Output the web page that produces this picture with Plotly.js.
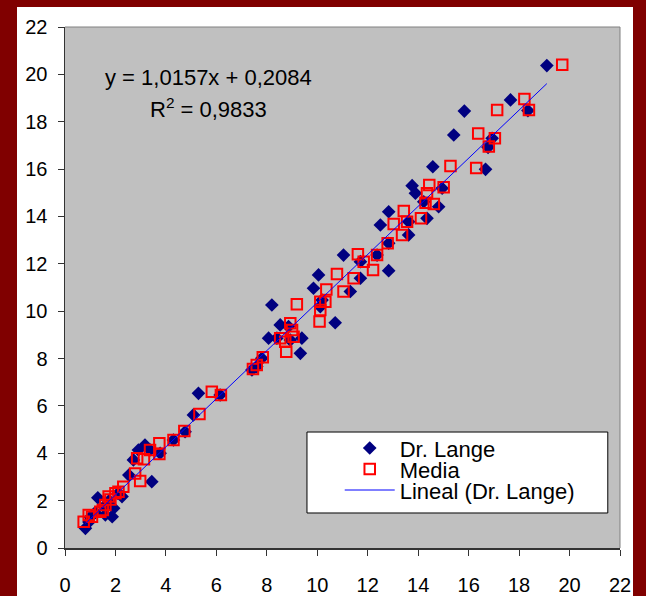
<!DOCTYPE html>
<html>
<head>
<meta charset="utf-8">
<script src="https://cdn.plot.ly/plotly-3.0.1.min.js"></script>
<style>
  html, body { margin: 0; padding: 0; width: 646px; height: 596px; overflow: hidden; background: #800000; }
  #frame { position: absolute; left: 17px; top: 7px; width: 616px; height: 589px; background: #ffffff; }
  #chart { width: 616px; height: 589px; }
</style>
</head>
<body>
<div id="frame"><div id="chart"></div></div>
<script>
// Dr. Lange readings (x = reference value, y = measured value)
const langeX = [19.1, 17.66, 15.83, 18.35, 15.41, 16.93, 16.77, 16.67, 14.58, 13.76,
                14.95, 13.89, 14.22, 14.81, 12.83, 12.5, 13.62, 14.35, 13.62, 12.83,
                11.04, 11.71, 12.37, 10.05, 11.71, 12.83, 9.85, 11.31, 10.12, 10.19,
                10.71, 8.2, 8.53, 8.07, 8.4, 9.39, 8.86, 8.93, 9.33, 7.8,
                7.6, 7.41, 5.29, 6.15, 5.09, 4.76, 4.3, 3.17, 2.91, 3.77,
                3.37, 2.71, 2.53, 3.44, 2.26, 2.1, 1.93, 1.87, 1.55, 1.3,
                1.2, 1.0, 0.81, 0.95, 1.6, 1.75];
const langeY = [20.37, 18.92, 18.45, 18.47, 17.44, 17.3, 16.92, 15.99, 16.1, 15.3,
                15.19, 14.98, 14.62, 14.41, 14.2, 13.64, 13.78, 13.92, 13.22, 12.87,
                12.37, 12.09, 12.37, 11.53, 11.39, 11.71, 10.97, 10.83, 10.19, 10.47,
                9.51, 10.26, 9.42, 8.86, 8.86, 8.86, 9.35, 8.78, 8.22, 8.01,
                7.66, 7.52, 6.53, 6.46, 5.62, 4.91, 4.56, 4.35, 4.14, 4.0,
                4.14, 3.72, 3.08, 2.8, 2.17, 2.3, 1.68, 1.32, 1.75, 2.12,
                1.5, 1.3, 0.83, 1.1, 1.4, 2.0];

// Media readings
const mediaX = [19.71, 18.21, 17.13, 18.39, 16.38, 17.04, 16.8, 15.28, 16.3, 15.01,
                14.44, 14.35, 14.29, 14.62, 13.43, 13.03, 13.56, 14.11, 13.36, 12.79,
                11.61, 12.37, 11.84, 12.21, 10.78, 11.44, 10.36, 11.04, 10.32, 10.12,
                10.12, 10.09, 9.19, 8.93, 9.0, 8.53, 9.06, 8.73, 8.77, 7.84,
                7.6, 7.45, 5.82, 6.18, 5.33, 4.73, 4.3, 3.74, 3.37, 3.74,
                3.13, 2.78, 2.98, 2.86, 2.31, 2.12, 2.0, 1.73, 1.6, 1.4,
                1.07, 0.94, 0.74, 1.8, 1.5];
const mediaY = [20.41, 18.96, 18.5, 18.5, 17.5, 17.3, 16.95, 16.13, 16.05, 15.23,
                15.33, 14.98, 14.58, 14.53, 14.23, 13.68, 13.78, 13.92, 13.22, 12.87,
                12.4, 12.37, 12.09, 11.74, 11.57, 11.39, 10.92, 10.83, 10.4, 10.4,
                10.05, 9.56, 10.29, 9.49, 9.21, 8.86, 8.92, 8.71, 8.29, 8.05,
                7.73, 7.56, 6.6, 6.46, 5.66, 4.94, 4.56, 4.42, 4.14, 3.97,
                3.75, 3.15, 2.83, 3.79, 2.59, 2.38, 2.31, 2.17, 1.82, 1.53,
                1.32, 1.39, 1.11, 2.05, 1.6];

// Linear fit of the Dr. Lange series
const trendSlope = 1.0157;
const trendIntercept = 0.2084;
const rSquared = 0.9833;

const axisTicks = [0, 2, 4, 6, 8, 10, 12, 14, 16, 18, 20, 22];
const seriesNames = ['Dr. Lange', 'Media', 'Lineal (Dr. Lange)'];

const fmt = v => v.toFixed(4).replace('.', ',');
const xMin = Math.min(...langeX);
const xMax = Math.max(...langeX);
const trendX = [xMin, xMax];
const trendY = trendX.map(x => trendSlope * x + trendIntercept);

const FONT = 'Liberation Sans, Arial, Helvetica, sans-serif';

const traces = [
  {
    type: 'scatter', mode: 'markers', name: seriesNames[0],
    x: langeX, y: langeY,
    marker: { symbol: 'diamond', size: 10.5, color: '#000080', line: { width: 0 } }
  },
  {
    type: 'scatter', mode: 'markers', name: seriesNames[1],
    x: mediaX, y: mediaY,
    marker: { symbol: 'square-open', size: 10.5, color: '#ff0000', line: { width: 2, color: '#ff0000' } }
  },
  {
    type: 'scatter', mode: 'lines', name: seriesNames[2],
    x: trendX, y: trendY,
    line: { color: '#0000ff', width: 1 }
  }
];

const axisCommon = {
  range: [0, 22], tickvals: axisTicks, ticktext: axisTicks.map(String),
  showgrid: false, zeroline: false,
  showline: true, linecolor: '#333333', linewidth: 1.5,
  ticks: 'outside', ticklen: 6, tickwidth: 1, tickcolor: '#333333',
  tickfont: { family: FONT, size: 20, color: '#000000' },
  fixedrange: true
};

const layout = {
  width: 616, height: 589,
  margin: { l: 48, r: 13, t: 20, b: 48 },
  paper_bgcolor: '#ffffff',
  plot_bgcolor: '#c0c0c0',
  font: { family: FONT, color: '#000000' },
  xaxis: Object.assign({}, axisCommon, { ticklabelstandoff: 12 }),
  yaxis: Object.assign({}, axisCommon, { ticklabelstandoff: 6 }),
  showlegend: true,
  legend: {
    x: 0.495, y: 0.2226, xanchor: 'left', yanchor: 'top',
    bgcolor: 'rgba(0,0,0,0)', borderwidth: 0,
    itemwidth: 50,
    font: { family: FONT, size: 22, color: '#000000' }
  },
  shapes: [
    // top and right edges of the plot frame
    { type: 'line', xref: 'paper', yref: 'paper', x0: 0, x1: 1, y0: 1, y1: 1, line: { color: '#808080', width: 1 } },
    { type: 'line', xref: 'paper', yref: 'paper', x0: 1, x1: 1, y0: 0, y1: 1, line: { color: '#808080', width: 1 } },
    // legend box
    { type: 'rect', xref: 'paper', yref: 'paper', x0: 0.436, x1: 0.978, y0: 0.0672, y1: 0.2226,
      fillcolor: '#ffffff', line: { color: '#000000', width: 1 }, layer: 'above' }
  ],
  annotations: [
    { xref: 'x', yref: 'y', x: 5.7, y: 19.85, showarrow: false, xanchor: 'center', yanchor: 'middle',
      text: 'y = ' + fmt(trendSlope) + 'x + ' + fmt(trendIntercept),
      font: { family: FONT, size: 22, color: '#000000' } },
    { xref: 'x', yref: 'y', x: 5.7, y: 18.58, showarrow: false, xanchor: 'center', yanchor: 'middle',
      text: 'R<sup>2</sup> = ' + fmt(rSquared),
      font: { family: FONT, size: 22, color: '#000000' } }
  ]
};

// legend rows sit 21px apart, the first centred 441px from the top of the chart
const LEGEND_ROW_TOP = 441;
const LEGEND_ROW_GAP = 21;

function readTranslate(el) {
  const m = /translate\(\s*([-\d.e]+)[ ,]+([-\d.e]+)/.exec((el && el.getAttribute('transform')) || '');
  return m ? [parseFloat(m[1]), parseFloat(m[2])] : [0, 0];
}

const gd = document.getElementById('chart');
Plotly.newPlot(gd, traces, layout, { displayModeBar: false, staticPlot: true }).then(() => {
  const legend = gd.querySelector('g.legend');
  if (!legend) return;
  const base = readTranslate(legend)[1] + readTranslate(legend.querySelector('g.scrollbox'))[1];
  legend.querySelectorAll('g.traces').forEach((g, i) => {
    const t = readTranslate(g);
    g.setAttribute('transform', 'translate(' + t[0] + ',' + (LEGEND_ROW_TOP - base + i * LEGEND_ROW_GAP) + ')');
  });
});
</script>
</body>
</html>
